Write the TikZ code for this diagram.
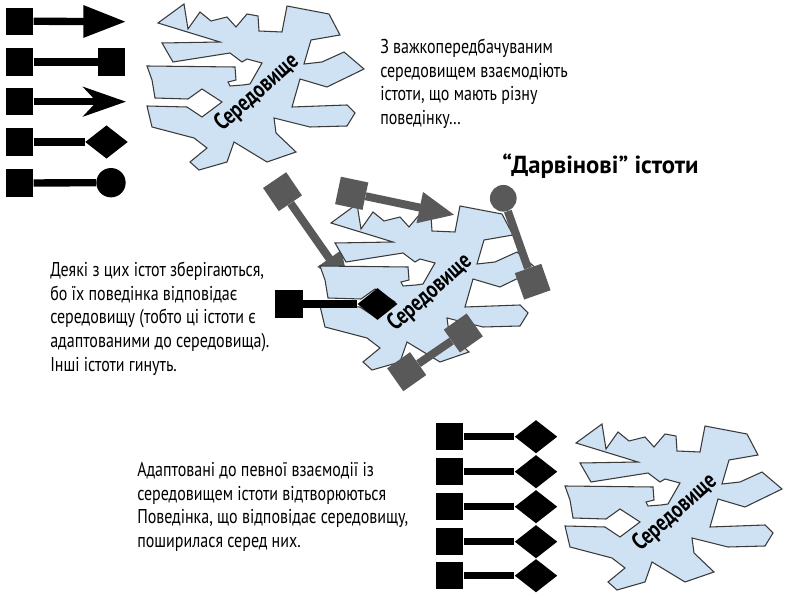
\documentclass[tikz,border=0pt]{standalone}
\usepackage{fontspec}
\setmainfont{PT Sans}[FakeStretch=0.8]
\newfontfamily\plainfont{PT Sans}
\newfontfamily\narrowfont{PT Sans}[FakeStretch=0.78]
\usetikzlibrary{arrows.meta,shapes.geometric}
\definecolor{blobfill}{HTML}{CFE2F3}
\definecolor{blobline}{HTML}{3A3A3A}
\definecolor{arrgray}{HTML}{595959}
\tikzset{
  sq/.style={rectangle, fill=black, minimum size=20.5pt, inner sep=0pt},
  gsq/.style={rectangle, fill=arrgray, minimum size=21pt, inner sep=0pt},
  conn/.style={line width=5.5pt, draw=black},
  gconn/.style={line width=6pt, draw=arrgray},
  dia/.style={diamond, fill=black, inner sep=0pt, minimum width=32pt, minimum height=25pt},
  blackdot/.style={circle, fill=black, inner sep=0pt, minimum size=22pt},
  graydot/.style={circle, fill=arrgray, inner sep=0pt, minimum size=20pt},
  txt/.style={align=left, inner sep=0pt, anchor=north west, font=\fontsize{15}{17.7}\selectfont},
  blobst/.style={fill=blobfill, draw=blobline, line width=0.8pt},
  blobtxt/.style={inner sep=0pt, font=\narrowfont\bfseries\fontsize{18}{20}\selectfont},
  blob/.pic={
    \path[blobst] (158,23) -- (184,4) -- (188,29) -- (200,12) -- (211,21) -- (227,17) -- (236,27)
      -- (247,14) -- (258,16) -- (259,31) -- (282,32) -- (287,6) -- (329,14) -- (340,35)
      -- (311,40) -- (304,64) -- (322,62) -- (344,52) -- (364,69) -- (327,87) -- (300,79)
      -- (292,107) -- (347,105) -- (355,113) -- (347,126) -- (310,127) -- (274,118)
      -- (276,133) -- (296,152) -- (267,162) -- (234,142) -- (227,162) -- (199,170)
      -- (190,162) -- (207,148) -- (194,138) -- (152,127)
      -- (147,106) -- (187,107) -- (202,117) -- (222,102) -- (202,89) -- (188,99)
      -- (155,98) -- (152,80) -- (147,66) -- (235,67) -- (236,80) -- (228,82) -- (230,86)
      -- (243,85) -- (250,84) -- (262,63) -- (247,59) -- (242,62) -- (230,53) -- (173,62)
      -- (162,43) -- (220,42) -- cycle;
    \node[blobtxt, rotate=41.5] (-txt) at (257,93) {Середовище};
  }
}
\begin{document}
\begin{tikzpicture}[x=0.75pt, y=-0.75pt]
\useasboundingbox (0,0) rectangle (793,595);
\fill[white] (0,0) rectangle (793,595);

% top-left column
\node[sq] (r1s) at (19.7,21.2) {};
\coordinate (r1e) at (126,21.7);
\draw[conn, -{Triangle[length=32pt, width=23pt]}] (r1s) -- (r1e);

\node[sq] (r2s) at (19.7,62) {};
\node[sq] (r2e) at (111.7,62) {};
\draw[conn] (r2s) -- (r2e);

\node[sq] (r3s) at (19.7,101.7) {};
\coordinate (r3e) at (126,101.7);
\draw[conn, -{Stealth[length=32pt, width=22pt, inset=10pt]}] (r3s) -- (r3e);

\node[sq] (r4s) at (19.7,142) {};
\node[dia] (r4e) at (106.5,142) {};
\draw[conn] (r4s) -- (r4e);

\node[sq] (r5s) at (19.7,183) {};
\node[blackdot] (r5e) at (111,182.7) {};
\draw[conn] (r5s) -- (r5e);

\pic (b1) at (0,0) {blob};

\node[txt] (t1) at (380,39) {З важкопередбачуваним\\середовищем взаємодіють\\істоти, що мають різну\\поведінку…};
\node[inner sep=0pt, anchor=north west, font=\plainfont\bfseries\fontsize{18.5}{20}\selectfont] (title) at (502,154) {“Дарвінові” істоти};

% middle: gray arrow behind blob
\node[gsq, rotate=-55.8] (g1s) at (282.5,191.7) {};
\coordinate (g1e) at (350,288);
\draw[gconn, -{Triangle[length=27pt, width=20pt]}] (g1s) -- (g1e);

\pic (b2) at (173,200) {blob};

% gray arrows in front of blob
\node[gsq, rotate=-11.9] (g2s) at (351.7,193.3) {};
\coordinate (g2e) at (455,215);
\draw[gconn, -{Triangle[length=27pt, width=22pt]}] (g2s) -- (g2e);

\node[graydot] (g3s) at (503.3,198.3) {};
\node[gsq, rotate=-70.6] (g3e) at (532.7,281.7) {};
\draw[gconn] (g3s) -- (g3e);

\node[gsq, rotate=35.2] (g4s) at (406.7,371.7) {};
\node[gsq, rotate=35.2] (g4e) at (463.3,333) {};
\draw[gconn] (g4s) -- (g4e);

\node[sq] (m1s) at (289,304) {};
\node[dia, minimum width=30pt, minimum height=24pt] (m1e) at (377.5,304) {};
\draw[conn] (m1s) -- (m1e);

\node[txt] (t2) at (50,262) {Деякі з цих істот зберігаються,\\бо їх поведінка відповідає\\середовищу (тобто ці істоти є\\адаптованими до середовища).\\Інші істоти гинуть.};

% bottom
\foreach \yy [count=\i] in {436.7,471.7,506.7,541.7,575.7} {
  \node[sq] (bs\i) at (449.7,\yy) {};
  \node[dia] (be\i) at (536,\yy) {};
  \draw[conn] (bs\i) -- (be\i);
}

\pic (b3) at (418,420) {blob};

\node[txt] (t3) at (137,462) {Адаптовані до певної взаємодії із\\середовищем істоти відтворюються\\Поведінка, що відповідає середовищу,\\поширилася серед них.};
\end{tikzpicture}
\end{document}
